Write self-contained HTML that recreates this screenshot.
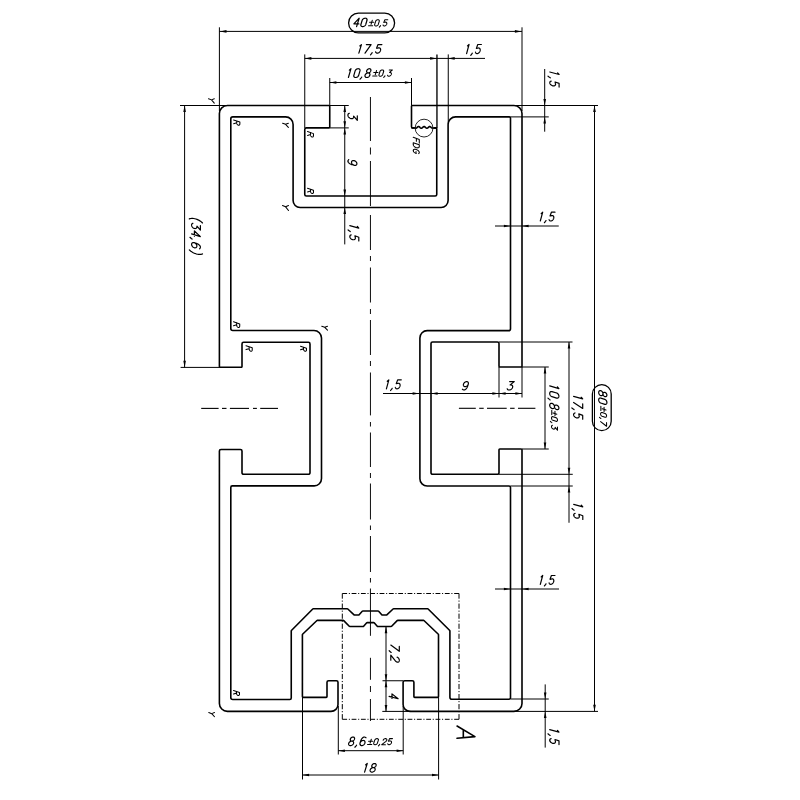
<!DOCTYPE html>
<html><head><meta charset="utf-8"><title>Profile drawing</title>
<style>
html,body{margin:0;padding:0;background:#fff;}
body{width:800px;height:800px;overflow:hidden;filter:grayscale(1);}
svg{display:block;}
text{font-family:"Liberation Sans",sans-serif;fill:#000;}
</style></head><body>
<svg width="800" height="800" viewBox="0 0 800 800">
<rect width="800" height="800" fill="#fff"/>
<path d="M219.4 113.5 A8 8 0 0 1 227.4 105.5 L328.95 105.5 A0.8 0.8 0 0 1 329.75 106.3 L329.75 127.1 A0.8 0.8 0 0 1 328.95 127.9 L306.35 127.9 A1.6 1.6 0 0 0 304.75 129.5 L304.75 194.4 A1.6 1.6 0 0 0 306.35 196 L435.15 196 A1.6 1.6 0 0 0 436.75 194.4 L436.75 128.7 A0.8 0.8 0 0 0 435.95 127.9 L412.7 127.9 A1.2 1.2 0 0 1 411.5 126.7 L411.5 106.3 A0.8 0.8 0 0 1 412.3 105.5 L514 105.5 A8 8 0 0 1 522 113.5 L522 366.2 A0.8 0.8 0 0 1 521.2 367 L499.8 367 A0.8 0.8 0 0 1 499 366.2 L499 343.6 A1.6 1.6 0 0 0 497.4 342 L432.6 342 A1.6 1.6 0 0 0 431 343.6 L431 472.7 A1.6 1.6 0 0 0 432.6 474.3 L497.4 474.3 A1.6 1.6 0 0 0 499 472.7 L499 449.8 A0.8 0.8 0 0 1 499.8 449 L521.2 449 A0.8 0.8 0 0 1 522 449.8 L522 703.4 A8 8 0 0 1 514 711.4 L410.1 711.4 A7 7 0 0 1 403.1 704.4 L403.1 682.35 A1.6 1.6 0 0 1 404.7 680.75 L412.3 680.75 A1.6 1.6 0 0 1 413.9 682.35 L413.9 696.6 A0.8 0.8 0 0 0 414.7 697.4 L437.7 697.4 A0.8 0.8 0 0 0 438.5 696.6 L438.5 634.61 A0.5 0.5 0 0 0 438.34 634.25 L423.94 620.54 A0.5 0.5 0 0 0 423.6 620.4 L397.74 620.4 A0.8 0.8 0 0 0 397.16 620.64 L391.64 626.26 A0.8 0.8 0 0 1 391.06 626.5 L377.86 626.5 A0.8 0.8 0 0 1 377.26 626.23 L374.4 622.94 A1 1 0 0 0 373.65 622.6 L367.25 622.6 A1 1 0 0 0 366.5 622.94 L363.64 626.23 A0.8 0.8 0 0 1 363.04 626.5 L349.84 626.5 A0.8 0.8 0 0 1 349.26 626.26 L343.74 620.64 A0.8 0.8 0 0 0 343.16 620.4 L317.3 620.4 A0.5 0.5 0 0 0 316.96 620.54 L302.56 634.25 A0.5 0.5 0 0 0 302.4 634.61 L302.4 696.6 A0.8 0.8 0 0 0 303.2 697.4 L326.2 697.4 A0.8 0.8 0 0 0 327 696.6 L327 682.35 A1.6 1.6 0 0 1 328.6 680.75 L336.4 680.75 A1.6 1.6 0 0 1 338 682.35 L338 704.4 A7 7 0 0 1 331 711.4 L227.4 711.4 A8 8 0 0 1 219.4 703.4 L219.4 451.1 A1.6 1.6 0 0 1 221 449.5 L240.4 449.5 A1.6 1.6 0 0 1 242 451.1 L242 472.7 A1.6 1.6 0 0 0 243.6 474.3 L308.4 474.3 A1.6 1.6 0 0 0 310 472.7 L310 343.9 A1.6 1.6 0 0 0 308.4 342.3 L243.6 342.3 A1.6 1.6 0 0 0 242 343.9 L242 366.5 A0.8 0.8 0 0 1 241.2 367.3 L220.2 367.3 A0.8 0.8 0 0 1 219.4 366.5 Z" fill="none" stroke="#000" stroke-width="1.6" stroke-linejoin="round"/>
<path d="M230.8 118.9 A2 2 0 0 1 232.8 116.9 L285.6 116.9 A7.5 7.5 0 0 1 293.1 124.4 L293.1 200.5 A7 7 0 0 0 300.1 207.5 L441.1 207.5 A7 7 0 0 0 448.1 200.5 L448.1 124.4 A7.5 7.5 0 0 1 455.6 116.9 L509.3 116.9 A1.2 1.2 0 0 1 510.5 118.1 L510.5 328.65 A2 2 0 0 1 508.5 330.65 L427.2 330.65 A7.3 7.3 0 0 0 419.9 337.95 L419.9 478.7 A7.3 7.3 0 0 0 427.2 486 L509 486 A1.5 1.5 0 0 1 510.5 487.5 L510.5 697.7 A1.5 1.5 0 0 1 509 699.2 L451.9 699.2 A2 2 0 0 1 449.9 697.2 L449.9 630.81 A0.5 0.5 0 0 0 449.75 630.45 L428.15 608.95 A0.5 0.5 0 0 0 427.79 608.8 L393.61 608.8 A0.8 0.8 0 0 0 393.07 609.01 L386.83 614.79 A0.8 0.8 0 0 1 386.29 615 L382.36 615 A0.8 0.8 0 0 1 381.76 614.74 L378.64 611.26 A0.8 0.8 0 0 0 378.04 611 L362.86 611 A0.8 0.8 0 0 0 362.26 611.26 L359.14 614.74 A0.8 0.8 0 0 1 358.54 615 L354.61 615 A0.8 0.8 0 0 1 354.07 614.79 L347.83 609.01 A0.8 0.8 0 0 0 347.29 608.8 L313.11 608.8 A0.5 0.5 0 0 0 312.75 608.95 L291.4 630.45 A0.5 0.5 0 0 0 291.25 630.81 L291.25 698 A1.5 1.5 0 0 1 289.75 699.5 L232.8 699.5 A2 2 0 0 1 230.8 697.5 L230.8 487.4 A1.5 1.5 0 0 1 232.3 485.9 L314.2 485.9 A7.3 7.3 0 0 0 321.5 478.6 L321.5 338 A7.5 7.5 0 0 0 314 330.5 L232.8 330.5 A2 2 0 0 1 230.8 328.5 Z" fill="none" stroke="#000" stroke-width="1.6" stroke-linejoin="round"/>
<rect x="414.6" y="125.2" width="19" height="4.4" fill="#fff"/>
<circle cx="424.05" cy="128.1" r="8.9" fill="none" stroke="#000" stroke-width="0.85"/>
<path d="M411.5 127.9 L415.9 128.0 L415.9 128.23 L416.15 128.14 L416.4 128 L416.65 127.81 L416.9 127.59 L417.15 127.35 L417.4 127.12 L417.65 126.91 L417.9 126.74 L418.15 126.61 L418.4 126.56 L418.65 126.56 L418.9 126.63 L419.15 126.77 L419.4 126.95 L419.65 127.16 L419.9 127.4 L420.15 127.64 L420.4 127.85 L420.65 128.03 L420.9 128.17 L421.15 128.24 L421.4 128.24 L421.65 128.19 L421.9 128.06 L422.15 127.89 L422.4 127.68 L422.65 127.45 L422.9 127.21 L423.15 126.99 L423.4 126.8 L423.65 126.66 L423.9 126.57 L424.15 126.55 L424.4 126.6 L424.65 126.71 L424.9 126.87 L425.15 127.07 L425.4 127.3 L425.65 127.54 L425.9 127.77 L426.15 127.97 L426.4 128.12 L426.65 128.22 L426.9 128.25 L427.15 128.22 L427.4 128.12 L427.65 127.97 L427.9 127.77 L428.15 127.54 L428.4 127.3 L428.65 127.07 L428.9 126.87 L429.15 126.71 L429.4 126.6 L429.65 126.55 L429.9 126.57 L430.15 126.66 L430.4 126.8 L430.65 126.99 L430.9 127.21 L431.15 127.45 L431.4 127.68 L431.65 127.89 L431.9 128.06 L436.75 128.1" fill="none" stroke="#000" stroke-width="1.6" stroke-linejoin="round"/>
<line x1="219.4" y1="27.3" x2="219.4" y2="111" stroke="#000" stroke-width="1"/>
<line x1="522" y1="27.3" x2="522" y2="111" stroke="#000" stroke-width="1"/>
<line x1="219.4" y1="31.4" x2="522" y2="31.4" stroke="#000" stroke-width="1"/>
<path d="M219.9 31.4 L226.5 30.1 L226.5 32.7 Z" fill="#000"/>
<path d="M521.5 31.4 L514.9 30.1 L514.9 32.7 Z" fill="#000"/>
<rect x="348.6" y="13.2" width="46" height="19.6" rx="9.8" ry="9.8" fill="none" stroke="#000" stroke-width="1.3"/>
<line x1="304.75" y1="54.4" x2="304.75" y2="127.9" stroke="#000" stroke-width="1"/>
<line x1="436.95" y1="54.4" x2="436.95" y2="127.9" stroke="#000" stroke-width="1.35"/>
<line x1="448.25" y1="54.4" x2="448.25" y2="124" stroke="#000" stroke-width="1"/>
<line x1="304.75" y1="58.4" x2="485" y2="58.4" stroke="#000" stroke-width="1"/>
<path d="M304.75 58.4 L311.35 57.1 L311.35 59.7 Z" fill="#000"/>
<path d="M436.75 58.4 L430.15 57.1 L430.15 59.7 Z" fill="#000"/>
<path d="M448.1 58.4 L454.7 57.1 L454.7 59.7 Z" fill="#000"/>
<line x1="329.75" y1="78" x2="329.75" y2="105.5" stroke="#000" stroke-width="1"/>
<line x1="411.5" y1="78" x2="411.5" y2="105.5" stroke="#000" stroke-width="1"/>
<line x1="329.75" y1="82.5" x2="411.5" y2="82.5" stroke="#000" stroke-width="1"/>
<path d="M329.75 82.5 L336.35 81.2 L336.35 83.8 Z" fill="#000"/>
<path d="M411.5 82.5 L404.9 81.2 L404.9 83.8 Z" fill="#000"/>
<line x1="329.75" y1="105.5" x2="348.75" y2="105.5" stroke="#000" stroke-width="1"/>
<line x1="329.75" y1="127.9" x2="348.75" y2="127.9" stroke="#000" stroke-width="1"/>
<line x1="344.75" y1="105.5" x2="344.75" y2="244.4" stroke="#000" stroke-width="1"/>
<path d="M344.75 105.5 L343.45 112.1 L346.05 112.1 Z" fill="#000"/>
<path d="M344.75 127.9 L343.45 121.3 L346.05 121.3 Z" fill="#000"/>
<path d="M344.75 127.9 L343.45 134.5 L346.05 134.5 Z" fill="#000"/>
<path d="M344.75 196 L343.45 189.4 L346.05 189.4 Z" fill="#000"/>
<path d="M344.75 207.5 L343.45 214.1 L346.05 214.1 Z" fill="#000"/>
<line x1="515" y1="105.5" x2="598" y2="105.5" stroke="#000" stroke-width="1"/>
<line x1="510.5" y1="116.9" x2="548.75" y2="116.9" stroke="#000" stroke-width="1"/>
<line x1="544.7" y1="69" x2="544.7" y2="131.7" stroke="#000" stroke-width="1"/>
<path d="M544.7 105.5 L543.4 98.9 L546 98.9 Z" fill="#000"/>
<path d="M544.7 116.9 L543.4 123.5 L546 123.5 Z" fill="#000"/>
<line x1="180" y1="105.5" x2="226" y2="105.5" stroke="#000" stroke-width="1"/>
<line x1="180.6" y1="367.4" x2="219.4" y2="367.4" stroke="#000" stroke-width="1"/>
<line x1="184.6" y1="105.5" x2="184.6" y2="367.4" stroke="#000" stroke-width="1"/>
<path d="M184.6 105.5 L183.3 112.1 L185.9 112.1 Z" fill="#000"/>
<path d="M184.6 367.4 L183.3 360.8 L185.9 360.8 Z" fill="#000"/>
<line x1="514" y1="711.4" x2="598" y2="711.4" stroke="#000" stroke-width="1"/>
<line x1="594.5" y1="105.5" x2="594.5" y2="711.4" stroke="#000" stroke-width="1"/>
<path d="M594.5 105.5 L593.2 112.1 L595.8 112.1 Z" fill="#000"/>
<path d="M594.5 711.4 L593.2 704.8 L595.8 704.8 Z" fill="#000"/>
<rect x="592.4" y="384.6" width="18.8" height="46" rx="9.4" ry="9.4" fill="none" stroke="#000" stroke-width="1.3"/>
<line x1="495" y1="226" x2="558.75" y2="226" stroke="#000" stroke-width="1"/>
<path d="M510.5 226 L503.9 224.7 L503.9 227.3 Z" fill="#000"/>
<path d="M522 226 L528.6 224.7 L528.6 227.3 Z" fill="#000"/>
<line x1="383" y1="393.5" x2="522" y2="393.5" stroke="#000" stroke-width="1"/>
<line x1="499" y1="367" x2="499" y2="397.5" stroke="#000" stroke-width="1"/>
<line x1="522" y1="367" x2="522" y2="397.5" stroke="#000" stroke-width="1"/>
<path d="M419.2 393.5 L412.6 392.2 L412.6 394.8 Z" fill="#000"/>
<path d="M431 393.5 L437.6 392.2 L437.6 394.8 Z" fill="#000"/>
<path d="M499 393.5 L492.4 392.2 L492.4 394.8 Z" fill="#000"/>
<path d="M499 393.5 L505.6 392.2 L505.6 394.8 Z" fill="#000"/>
<path d="M522 393.5 L515.4 392.2 L515.4 394.8 Z" fill="#000"/>
<line x1="522" y1="367" x2="548.75" y2="367" stroke="#000" stroke-width="1"/>
<line x1="522" y1="449" x2="548.75" y2="449" stroke="#000" stroke-width="1"/>
<line x1="545" y1="367" x2="545" y2="449" stroke="#000" stroke-width="1"/>
<path d="M545 367 L543.7 373.6 L546.3 373.6 Z" fill="#000"/>
<path d="M545 449 L543.7 442.4 L546.3 442.4 Z" fill="#000"/>
<line x1="499" y1="342" x2="572.5" y2="342" stroke="#000" stroke-width="1"/>
<line x1="499" y1="474.3" x2="572.75" y2="474.3" stroke="#000" stroke-width="1"/>
<line x1="510.5" y1="486" x2="572.75" y2="486" stroke="#000" stroke-width="1"/>
<line x1="569" y1="342" x2="569" y2="522.75" stroke="#000" stroke-width="1"/>
<path d="M569 342 L567.7 348.6 L570.3 348.6 Z" fill="#000"/>
<path d="M569 474.3 L567.7 467.7 L570.3 467.7 Z" fill="#000"/>
<path d="M569 486 L567.7 492.6 L570.3 492.6 Z" fill="#000"/>
<line x1="495" y1="589" x2="559" y2="589" stroke="#000" stroke-width="1"/>
<path d="M510.5 589 L503.9 587.7 L503.9 590.3 Z" fill="#000"/>
<path d="M522 589 L528.6 587.7 L528.6 590.3 Z" fill="#000"/>
<line x1="510.5" y1="699" x2="548.75" y2="699" stroke="#000" stroke-width="1"/>
<line x1="545.2" y1="684.4" x2="545.2" y2="747.6" stroke="#000" stroke-width="1"/>
<path d="M545.2 699 L543.9 692.4 L546.5 692.4 Z" fill="#000"/>
<path d="M545.2 711.4 L543.9 718 L546.5 718 Z" fill="#000"/>
<line x1="382.5" y1="680.75" x2="403.1" y2="680.75" stroke="#000" stroke-width="1"/>
<line x1="382.3" y1="711.4" x2="411" y2="711.4" stroke="#000" stroke-width="1"/>
<line x1="386" y1="627" x2="386" y2="711.5" stroke="#000" stroke-width="1"/>
<path d="M386 626.6 L384.7 633.2 L387.3 633.2 Z" fill="#000"/>
<path d="M386 680.75 L384.7 674.15 L387.3 674.15 Z" fill="#000"/>
<path d="M386 680.75 L384.7 687.35 L387.3 687.35 Z" fill="#000"/>
<path d="M386 711.5 L384.7 704.9 L387.3 704.9 Z" fill="#000"/>
<line x1="338.3" y1="706" x2="338.3" y2="754.5" stroke="#000" stroke-width="1"/>
<line x1="403.2" y1="706" x2="403.2" y2="754.5" stroke="#000" stroke-width="1"/>
<line x1="338.3" y1="750.7" x2="403.2" y2="750.7" stroke="#000" stroke-width="1"/>
<path d="M338.3 750.7 L344.9 749.4 L344.9 752 Z" fill="#000"/>
<path d="M403.2 750.7 L396.6 749.4 L396.6 752 Z" fill="#000"/>
<line x1="302.5" y1="697.3" x2="302.5" y2="779.5" stroke="#000" stroke-width="1"/>
<line x1="438.6" y1="697.3" x2="438.6" y2="779.5" stroke="#000" stroke-width="1"/>
<line x1="302.5" y1="775" x2="438.6" y2="775" stroke="#000" stroke-width="1"/>
<path d="M302.5 775 L309.1 773.7 L309.1 776.3 Z" fill="#000"/>
<path d="M438.6 775 L432 773.7 L432 776.3 Z" fill="#000"/>
<line x1="342.3" y1="593.5" x2="459" y2="593.5" stroke="#000" stroke-width="1" stroke-dasharray="4.806 1.730 1.057 1.730"/>
<line x1="459" y1="593.5" x2="459" y2="719.3" stroke="#000" stroke-width="1" stroke-dasharray="5.181 1.865 1.140 1.865"/>
<line x1="342.3" y1="719.3" x2="459" y2="719.3" stroke="#000" stroke-width="1" stroke-dasharray="4.806 1.730 1.057 1.730"/>
<line x1="342.3" y1="593.5" x2="342.3" y2="719.3" stroke="#000" stroke-width="1" stroke-dasharray="5.181 1.865 1.140 1.865"/>
<line x1="370.45" y1="97" x2="370.45" y2="141" stroke="#000" stroke-width="0.95"/>
<line x1="370.45" y1="147.5" x2="370.45" y2="154.5" stroke="#000" stroke-width="0.95"/>
<line x1="370.45" y1="161" x2="370.45" y2="206" stroke="#000" stroke-width="0.95"/>
<line x1="370.45" y1="215" x2="370.45" y2="250" stroke="#000" stroke-width="0.95"/>
<line x1="370.45" y1="256" x2="370.45" y2="261" stroke="#000" stroke-width="0.95"/>
<line x1="370.45" y1="267.5" x2="370.45" y2="302.5" stroke="#000" stroke-width="0.95"/>
<line x1="370.45" y1="309" x2="370.45" y2="314" stroke="#000" stroke-width="0.95"/>
<line x1="370.45" y1="320" x2="370.45" y2="355" stroke="#000" stroke-width="0.95"/>
<line x1="370.45" y1="361" x2="370.45" y2="366" stroke="#000" stroke-width="0.95"/>
<line x1="370.45" y1="372.5" x2="370.45" y2="415.4" stroke="#000" stroke-width="0.95"/>
<line x1="370.45" y1="422" x2="370.45" y2="426.5" stroke="#000" stroke-width="0.95"/>
<line x1="370.45" y1="432.5" x2="370.45" y2="467" stroke="#000" stroke-width="0.95"/>
<line x1="370.45" y1="473" x2="370.45" y2="478" stroke="#000" stroke-width="0.95"/>
<line x1="370.45" y1="483.5" x2="370.45" y2="519.5" stroke="#000" stroke-width="0.95"/>
<line x1="370.45" y1="525.5" x2="370.45" y2="530" stroke="#000" stroke-width="0.95"/>
<line x1="370.45" y1="536" x2="370.45" y2="572" stroke="#000" stroke-width="0.95"/>
<line x1="370.45" y1="578" x2="370.45" y2="582.5" stroke="#000" stroke-width="0.95"/>
<line x1="370.45" y1="588.5" x2="370.45" y2="635.8" stroke="#000" stroke-width="0.95"/>
<line x1="370.45" y1="657.8" x2="370.45" y2="679.8" stroke="#000" stroke-width="0.95"/>
<line x1="370.45" y1="686" x2="370.45" y2="692" stroke="#000" stroke-width="0.95"/>
<line x1="370.45" y1="699" x2="370.45" y2="721" stroke="#000" stroke-width="0.95"/>
<line x1="201.2" y1="408.4" x2="218.6" y2="408.4" stroke="#000" stroke-width="1.1"/>
<line x1="222" y1="408.4" x2="226.5" y2="408.4" stroke="#000" stroke-width="1.1"/>
<line x1="229.9" y1="408.4" x2="249" y2="408.4" stroke="#000" stroke-width="1.1"/>
<line x1="253" y1="408.4" x2="256.9" y2="408.4" stroke="#000" stroke-width="1.1"/>
<line x1="260.2" y1="408.4" x2="278" y2="408.4" stroke="#000" stroke-width="1.1"/>
<line x1="458.9" y1="408.3" x2="475.8" y2="408.3" stroke="#000" stroke-width="1.1"/>
<line x1="479.2" y1="408.3" x2="483.7" y2="408.3" stroke="#000" stroke-width="1.1"/>
<line x1="487" y1="408.3" x2="506.7" y2="408.3" stroke="#000" stroke-width="1.1"/>
<line x1="510.1" y1="408.3" x2="514.6" y2="408.3" stroke="#000" stroke-width="1.1"/>
<line x1="518" y1="408.3" x2="535.4" y2="408.3" stroke="#000" stroke-width="1.1"/>
<path transform="translate(353.02 26.6) scale(0.9644 0.8400)" d="M3.70 0.00 6.38 -10.00 0.86 -3.20 6.06 -3.20M9.51 -7.50 9.63 -7.86 9.80 -8.20 10.01 -8.54 10.27 -8.85 10.56 -9.14 10.88 -9.39 11.22 -9.60 11.58 -9.77 11.95 -9.90 12.32 -9.97 12.68 -10.00 13.03 -9.97 13.36 -9.90 13.66 -9.77 13.92 -9.60 14.15 -9.39 14.34 -9.14 14.47 -8.85 14.56 -8.54 14.60 -8.20 14.58 -7.86 14.51 -7.50 13.17 -2.50 13.05 -2.14 12.88 -1.80 12.67 -1.46 12.41 -1.15 12.12 -0.86 11.80 -0.61 11.46 -0.40 11.10 -0.23 10.73 -0.10 10.36 -0.03 10.00 0.00 9.65 -0.03 9.32 -0.10 9.02 -0.23 8.75 -0.40 8.53 -0.61 8.34 -0.86 8.20 -1.15 8.12 -1.46 8.08 -1.80 8.10 -2.14 8.17 -2.50 9.51 -7.50" fill="none" stroke="#000" stroke-width="1.2" stroke-linecap="round" stroke-linejoin="round" vector-effect="non-scaling-stroke"/>
<path transform="translate(368.45 25.97) scale(0.7190 0.6250)" d="M5.31 -9.00 3.60 -2.60M1.55 -5.80 7.35 -5.80M0.11 -0.40 5.91 -0.40M10.01 -7.50 10.13 -7.86 10.30 -8.20 10.51 -8.54 10.77 -8.85 11.06 -9.14 11.38 -9.39 11.72 -9.60 12.08 -9.77 12.45 -9.90 12.82 -9.97 13.18 -10.00 13.53 -9.97 13.86 -9.90 14.16 -9.77 14.42 -9.60 14.65 -9.39 14.84 -9.14 14.97 -8.85 15.06 -8.54 15.10 -8.20 15.08 -7.86 15.01 -7.50 13.67 -2.50 13.55 -2.14 13.38 -1.80 13.17 -1.46 12.91 -1.15 12.62 -0.86 12.30 -0.61 11.96 -0.40 11.60 -0.23 11.23 -0.10 10.86 -0.03 10.50 0.00 10.15 -0.03 9.82 -0.10 9.52 -0.23 9.25 -0.40 9.03 -0.61 8.84 -0.86 8.70 -1.15 8.62 -1.46 8.58 -1.80 8.60 -2.14 8.67 -2.50 10.01 -7.50M16.83 -0.50 16.32 0.30 15.09 1.90M26.88 -10.00 22.88 -10.00 21.33 -5.70 22.63 -5.91 23.00 -6.07 23.36 -6.16 23.72 -6.20 24.06 -6.18 24.39 -6.09 24.68 -5.95 24.94 -5.75 25.16 -5.50 25.33 -5.20 25.46 -4.86 25.54 -4.49 25.56 -4.09 25.54 -3.67 25.47 -3.24 25.34 -2.81 25.17 -2.38 24.95 -1.96 24.70 -1.57 24.41 -1.21 24.09 -0.88 23.74 -0.60 23.39 -0.37 23.02 -0.19 22.65 -0.07 22.29 -0.01 21.94 -0.01 21.61 -0.07 21.30 -0.18 21.03 -0.36 20.79 -0.59 20.60 -0.87 20.45 -1.19 20.35 -1.55" fill="none" stroke="#000" stroke-width="1.05" stroke-linecap="round" stroke-linejoin="round" vector-effect="non-scaling-stroke"/>
<path transform="translate(357.11 53.15) scale(0.9653 0.8550)" d="M2.75 -8.40 4.48 -10.00 1.80 0.00M9.58 -10.00 14.48 -10.00 8.20 0.00M15.63 -0.50 15.12 0.30 13.89 1.90M25.68 -10.00 21.68 -10.00 20.13 -5.70 21.43 -5.91 21.80 -6.07 22.16 -6.16 22.52 -6.20 22.86 -6.18 23.19 -6.09 23.48 -5.95 23.74 -5.75 23.96 -5.50 24.13 -5.20 24.26 -4.86 24.34 -4.49 24.36 -4.09 24.34 -3.67 24.27 -3.24 24.14 -2.81 23.97 -2.38 23.75 -1.96 23.50 -1.57 23.21 -1.21 22.89 -0.88 22.54 -0.60 22.19 -0.37 21.82 -0.19 21.45 -0.07 21.09 -0.01 20.74 -0.01 20.41 -0.07 20.10 -0.18 19.83 -0.36 19.59 -0.59 19.40 -0.87 19.25 -1.19 19.15 -1.55" fill="none" stroke="#000" stroke-width="1.2" stroke-linecap="round" stroke-linejoin="round" vector-effect="non-scaling-stroke"/>
<path transform="translate(346.67 77.5) scale(0.9625 0.8800)" d="M2.75 -8.40 4.48 -10.00 1.80 0.00M8.81 -7.50 8.93 -7.86 9.10 -8.20 9.31 -8.54 9.57 -8.85 9.86 -9.14 10.18 -9.39 10.52 -9.60 10.88 -9.77 11.25 -9.90 11.62 -9.97 11.98 -10.00 12.33 -9.97 12.66 -9.90 12.96 -9.77 13.22 -9.60 13.45 -9.39 13.64 -9.14 13.77 -8.85 13.86 -8.54 13.90 -8.20 13.88 -7.86 13.81 -7.50 12.47 -2.50 12.35 -2.14 12.18 -1.80 11.97 -1.46 11.71 -1.15 11.42 -0.86 11.10 -0.61 10.76 -0.40 10.40 -0.23 10.03 -0.10 9.66 -0.03 9.30 0.00 8.95 -0.03 8.62 -0.10 8.32 -0.23 8.05 -0.40 7.83 -0.61 7.64 -0.86 7.50 -1.15 7.42 -1.46 7.38 -1.80 7.40 -2.14 7.47 -2.50 8.81 -7.50M15.63 -0.50 15.12 0.30 13.89 1.90M25.09 -7.60 24.94 -7.18 24.74 -6.78 24.48 -6.40 24.17 -6.06 23.83 -5.76 23.45 -5.52 23.07 -5.34 22.68 -5.24 22.29 -5.20 21.93 -5.24 21.60 -5.34 21.30 -5.52 21.06 -5.76 20.88 -6.06 20.75 -6.40 20.70 -6.78 20.71 -7.18 20.79 -7.60 20.93 -8.02 21.14 -8.42 21.40 -8.80 21.70 -9.14 22.05 -9.44 22.42 -9.68 22.81 -9.86 23.20 -9.96 23.58 -10.00 23.94 -9.96 24.28 -9.86 24.57 -9.68 24.81 -9.44 25.00 -9.14 25.12 -8.80 25.18 -8.42 25.17 -8.02 25.09 -7.60M24.10 -2.60 23.94 -2.15 23.71 -1.71 23.41 -1.30 23.06 -0.93 22.67 -0.61 22.24 -0.35 21.80 -0.16 21.34 -0.04 20.90 0.00 20.48 -0.04 20.09 -0.16 19.74 -0.35 19.46 -0.61 19.23 -0.93 19.08 -1.30 19.01 -1.71 19.01 -2.15 19.10 -2.60 19.26 -3.05 19.49 -3.49 19.78 -3.90 20.13 -4.27 20.52 -4.59 20.95 -4.85 21.40 -5.04 21.85 -5.16 22.29 -5.20 22.72 -5.16 23.11 -5.04 23.45 -4.85 23.74 -4.59 23.96 -4.27 24.11 -3.90 24.18 -3.49 24.18 -3.05 24.10 -2.60" fill="none" stroke="#000" stroke-width="1.2" stroke-linecap="round" stroke-linejoin="round" vector-effect="non-scaling-stroke"/>
<path transform="translate(372.65 76.23) scale(0.7322 0.6300)" d="M5.31 -9.00 3.60 -2.60M1.55 -5.80 7.35 -5.80M0.11 -0.40 5.91 -0.40M10.01 -7.50 10.13 -7.86 10.30 -8.20 10.51 -8.54 10.77 -8.85 11.06 -9.14 11.38 -9.39 11.72 -9.60 12.08 -9.77 12.45 -9.90 12.82 -9.97 13.18 -10.00 13.53 -9.97 13.86 -9.90 14.16 -9.77 14.42 -9.60 14.65 -9.39 14.84 -9.14 14.97 -8.85 15.06 -8.54 15.10 -8.20 15.08 -7.86 15.01 -7.50 13.67 -2.50 13.55 -2.14 13.38 -1.80 13.17 -1.46 12.91 -1.15 12.62 -0.86 12.30 -0.61 11.96 -0.40 11.60 -0.23 11.23 -0.10 10.86 -0.03 10.50 0.00 10.15 -0.03 9.82 -0.10 9.52 -0.23 9.25 -0.40 9.03 -0.61 8.84 -0.86 8.70 -1.15 8.62 -1.46 8.58 -1.80 8.60 -2.14 8.67 -2.50 10.01 -7.50M16.83 -0.50 16.32 0.30 15.09 1.90M22.68 -10.00 27.08 -10.00 23.13 -6.10 23.29 -6.05 23.65 -6.10 24.00 -6.08 24.32 -6.01 24.62 -5.87 24.88 -5.68 25.11 -5.44 25.29 -5.15 25.43 -4.82 25.51 -4.45 25.55 -4.06 25.53 -3.65 25.46 -3.22 25.34 -2.79 25.17 -2.37 24.96 -1.96 24.71 -1.57 24.42 -1.21 24.10 -0.89 23.76 -0.61 23.40 -0.37 23.03 -0.20 22.66 -0.07 22.30 -0.01 21.95 -0.01 21.61 -0.06 21.31 -0.18 21.03 -0.35 20.79 -0.58 20.60 -0.85 20.45 -1.17 20.34 -1.53" fill="none" stroke="#000" stroke-width="1.05" stroke-linecap="round" stroke-linejoin="round" vector-effect="non-scaling-stroke"/>
<path transform="translate(464.97 53.6) scale(0.9036 0.9100)" d="M2.75 -8.40 4.48 -10.00 1.80 0.00M8.13 -0.50 7.62 0.30 6.39 1.90M18.18 -10.00 14.18 -10.00 12.63 -5.70 13.93 -5.91 14.30 -6.07 14.66 -6.16 15.02 -6.20 15.36 -6.18 15.69 -6.09 15.98 -5.95 16.24 -5.75 16.46 -5.50 16.63 -5.20 16.76 -4.86 16.84 -4.49 16.86 -4.09 16.84 -3.67 16.77 -3.24 16.64 -2.81 16.47 -2.38 16.25 -1.96 16.00 -1.57 15.71 -1.21 15.39 -0.88 15.04 -0.60 14.69 -0.37 14.32 -0.19 13.95 -0.07 13.59 -0.01 13.24 -0.01 12.91 -0.07 12.60 -0.18 12.33 -0.36 12.09 -0.59 11.90 -0.87 11.75 -1.19 11.65 -1.55" fill="none" stroke="#000" stroke-width="1.2" stroke-linecap="round" stroke-linejoin="round" vector-effect="non-scaling-stroke"/>
<path transform="translate(347.9 112.53) rotate(90) scale(1.0392 0.9400)" d="M3.08 -10.00 7.48 -10.00 3.53 -6.10 3.69 -6.05 4.05 -6.10 4.40 -6.08 4.72 -6.01 5.02 -5.87 5.28 -5.68 5.51 -5.44 5.69 -5.15 5.83 -4.82 5.91 -4.45 5.95 -4.06 5.93 -3.65 5.86 -3.22 5.74 -2.79 5.57 -2.37 5.36 -1.96 5.11 -1.57 4.82 -1.21 4.50 -0.89 4.16 -0.61 3.80 -0.37 3.43 -0.20 3.06 -0.07 2.70 -0.01 2.35 -0.01 2.01 -0.06 1.71 -0.18 1.43 -0.35 1.19 -0.58 1.00 -0.85 0.85 -1.17 0.74 -1.53" fill="none" stroke="#000" stroke-width="1.2" stroke-linecap="round" stroke-linejoin="round" vector-effect="non-scaling-stroke"/>
<path transform="translate(347.9 158.91) rotate(90) scale(0.9267 0.9000)" d="M0.74 -0.90 1.46 -0.40 1.68 -0.23 1.93 -0.10 2.21 -0.03 2.50 0.00 2.50 0.00 2.87 -0.05 3.26 -0.20 3.66 -0.45 4.06 -0.79 4.46 -1.22 4.85 -1.73 5.22 -2.30 5.56 -2.92 5.86 -3.59 6.12 -4.29 6.34 -5.00 6.88 -7.00M1.88 -7.00 2.05 -7.52 2.30 -8.03 2.61 -8.50 2.98 -8.93 3.38 -9.30 3.82 -9.60 4.28 -9.82 4.73 -9.95 5.18 -10.00 5.60 -9.95 5.99 -9.82 6.32 -9.60 6.60 -9.30 6.81 -8.93 6.94 -8.50 7.00 -8.03 6.98 -7.52 6.88 -7.00 6.70 -6.48 6.45 -5.97 6.14 -5.50 5.77 -5.07 5.37 -4.70 4.93 -4.40 4.48 -4.18 4.02 -4.05 3.57 -4.00 3.15 -4.05 2.77 -4.18 2.43 -4.40 2.15 -4.70 1.94 -5.07 1.81 -5.50 1.75 -5.97 1.77 -6.48 1.88 -7.00" fill="none" stroke="#000" stroke-width="1.2" stroke-linecap="round" stroke-linejoin="round" vector-effect="non-scaling-stroke"/>
<path transform="translate(349.8 223.91) rotate(90) scale(0.9402 0.9000)" d="M2.75 -8.40 4.48 -10.00 1.80 0.00M8.13 -0.50 7.62 0.30 6.39 1.90M18.18 -10.00 14.18 -10.00 12.63 -5.70 13.93 -5.91 14.30 -6.07 14.66 -6.16 15.02 -6.20 15.36 -6.18 15.69 -6.09 15.98 -5.95 16.24 -5.75 16.46 -5.50 16.63 -5.20 16.76 -4.86 16.84 -4.49 16.86 -4.09 16.84 -3.67 16.77 -3.24 16.64 -2.81 16.47 -2.38 16.25 -1.96 16.00 -1.57 15.71 -1.21 15.39 -0.88 15.04 -0.60 14.69 -0.37 14.32 -0.19 13.95 -0.07 13.59 -0.01 13.24 -0.01 12.91 -0.07 12.60 -0.18 12.33 -0.36 12.09 -0.59 11.90 -0.87 11.75 -1.19 11.65 -1.55" fill="none" stroke="#000" stroke-width="1.2" stroke-linecap="round" stroke-linejoin="round" vector-effect="non-scaling-stroke"/>
<path transform="translate(549.8 70.34) rotate(90) scale(0.9219 0.9300)" d="M2.75 -8.40 4.48 -10.00 1.80 0.00M8.13 -0.50 7.62 0.30 6.39 1.90M18.18 -10.00 14.18 -10.00 12.63 -5.70 13.93 -5.91 14.30 -6.07 14.66 -6.16 15.02 -6.20 15.36 -6.18 15.69 -6.09 15.98 -5.95 16.24 -5.75 16.46 -5.50 16.63 -5.20 16.76 -4.86 16.84 -4.49 16.86 -4.09 16.84 -3.67 16.77 -3.24 16.64 -2.81 16.47 -2.38 16.25 -1.96 16.00 -1.57 15.71 -1.21 15.39 -0.88 15.04 -0.60 14.69 -0.37 14.32 -0.19 13.95 -0.07 13.59 -0.01 13.24 -0.01 12.91 -0.07 12.60 -0.18 12.33 -0.36 12.09 -0.59 11.90 -0.87 11.75 -1.19 11.65 -1.55" fill="none" stroke="#000" stroke-width="1.2" stroke-linecap="round" stroke-linejoin="round" vector-effect="non-scaling-stroke"/>
<path transform="translate(191.6 217.48) rotate(90) scale(1.0110 0.8800)" d="M1.43 2.59 1.16 1.77 0.99 0.84 0.91 -0.19 0.92 -1.30 1.03 -2.46 1.23 -3.67 1.51 -4.90 1.88 -6.13 2.33 -7.34 2.85 -8.50 3.43 -9.61 4.06 -10.64 4.74 -11.57 5.44 -12.39M8.08 -10.00 12.48 -10.00 8.53 -6.10 8.69 -6.05 9.05 -6.10 9.40 -6.08 9.72 -6.01 10.02 -5.87 10.28 -5.68 10.51 -5.44 10.69 -5.15 10.83 -4.82 10.91 -4.45 10.95 -4.06 10.93 -3.65 10.86 -3.22 10.74 -2.79 10.57 -2.37 10.36 -1.96 10.11 -1.57 9.82 -1.21 9.50 -0.89 9.16 -0.61 8.80 -0.37 8.43 -0.20 8.06 -0.07 7.70 -0.01 7.35 -0.01 7.01 -0.06 6.71 -0.18 6.43 -0.35 6.19 -0.58 6.00 -0.85 5.85 -1.17 5.74 -1.53M16.20 0.00 18.88 -10.00 13.36 -3.20 18.56 -3.20M21.33 -0.50 20.82 0.30 19.59 1.90M31.04 -9.10 30.32 -9.60 30.10 -9.77 29.85 -9.90 29.57 -9.97 29.28 -10.00 29.28 -10.00 28.91 -9.95 28.52 -9.80 28.12 -9.55 27.72 -9.21 27.32 -8.78 26.93 -8.27 26.56 -7.70 26.22 -7.08 25.92 -6.41 25.66 -5.71 25.44 -5.00 24.90 -3.00M29.90 -3.00 29.73 -2.48 29.48 -1.97 29.17 -1.50 28.80 -1.07 28.40 -0.70 27.96 -0.40 27.50 -0.18 27.05 -0.05 26.60 0.00 26.18 -0.05 25.79 -0.18 25.46 -0.40 25.18 -0.70 24.97 -1.07 24.84 -1.50 24.78 -1.97 24.80 -2.48 24.90 -3.00 25.08 -3.52 25.33 -4.03 25.64 -4.50 26.01 -4.93 26.41 -5.30 26.85 -5.60 27.30 -5.82 27.76 -5.95 28.21 -6.00 28.63 -5.95 29.01 -5.82 29.35 -5.60 29.63 -5.30 29.84 -4.93 29.97 -4.50 30.03 -4.03 30.01 -3.52 29.90 -3.00M36.00 -12.39 36.26 -11.57 36.44 -10.64 36.52 -9.61 36.50 -8.50 36.40 -7.34 36.20 -6.13 35.91 -4.90 35.54 -3.67 35.09 -2.46 34.57 -1.30 33.99 -0.19 33.36 0.84 32.69 1.77 31.99 2.59" fill="none" stroke="#000" stroke-width="1.2" stroke-linecap="round" stroke-linejoin="round" vector-effect="non-scaling-stroke"/>
<path transform="translate(538.68 221) scale(0.8975 0.8800)" d="M2.75 -8.40 4.48 -10.00 1.80 0.00M8.13 -0.50 7.62 0.30 6.39 1.90M18.18 -10.00 14.18 -10.00 12.63 -5.70 13.93 -5.91 14.30 -6.07 14.66 -6.16 15.02 -6.20 15.36 -6.18 15.69 -6.09 15.98 -5.95 16.24 -5.75 16.46 -5.50 16.63 -5.20 16.76 -4.86 16.84 -4.49 16.86 -4.09 16.84 -3.67 16.77 -3.24 16.64 -2.81 16.47 -2.38 16.25 -1.96 16.00 -1.57 15.71 -1.21 15.39 -0.88 15.04 -0.60 14.69 -0.37 14.32 -0.19 13.95 -0.07 13.59 -0.01 13.24 -0.01 12.91 -0.07 12.60 -0.18 12.33 -0.36 12.09 -0.59 11.90 -0.87 11.75 -1.19 11.65 -1.55" fill="none" stroke="#000" stroke-width="1.2" stroke-linecap="round" stroke-linejoin="round" vector-effect="non-scaling-stroke"/>
<path transform="translate(384.76 388.8) scale(0.9097 0.8950)" d="M2.75 -8.40 4.48 -10.00 1.80 0.00M8.13 -0.50 7.62 0.30 6.39 1.90M18.18 -10.00 14.18 -10.00 12.63 -5.70 13.93 -5.91 14.30 -6.07 14.66 -6.16 15.02 -6.20 15.36 -6.18 15.69 -6.09 15.98 -5.95 16.24 -5.75 16.46 -5.50 16.63 -5.20 16.76 -4.86 16.84 -4.49 16.86 -4.09 16.84 -3.67 16.77 -3.24 16.64 -2.81 16.47 -2.38 16.25 -1.96 16.00 -1.57 15.71 -1.21 15.39 -0.88 15.04 -0.60 14.69 -0.37 14.32 -0.19 13.95 -0.07 13.59 -0.01 13.24 -0.01 12.91 -0.07 12.60 -0.18 12.33 -0.36 12.09 -0.59 11.90 -0.87 11.75 -1.19 11.65 -1.55" fill="none" stroke="#000" stroke-width="1.2" stroke-linecap="round" stroke-linejoin="round" vector-effect="non-scaling-stroke"/>
<path transform="translate(461.69 390) scale(0.9587 0.8400)" d="M0.74 -0.90 1.46 -0.40 1.68 -0.23 1.93 -0.10 2.21 -0.03 2.50 0.00 2.50 0.00 2.87 -0.05 3.26 -0.20 3.66 -0.45 4.06 -0.79 4.46 -1.22 4.85 -1.73 5.22 -2.30 5.56 -2.92 5.86 -3.59 6.12 -4.29 6.34 -5.00 6.88 -7.00M1.88 -7.00 2.05 -7.52 2.30 -8.03 2.61 -8.50 2.98 -8.93 3.38 -9.30 3.82 -9.60 4.28 -9.82 4.73 -9.95 5.18 -10.00 5.60 -9.95 5.99 -9.82 6.32 -9.60 6.60 -9.30 6.81 -8.93 6.94 -8.50 7.00 -8.03 6.98 -7.52 6.88 -7.00 6.70 -6.48 6.45 -5.97 6.14 -5.50 5.77 -5.07 5.37 -4.70 4.93 -4.40 4.48 -4.18 4.02 -4.05 3.57 -4.00 3.15 -4.05 2.77 -4.18 2.43 -4.40 2.15 -4.70 1.94 -5.07 1.81 -5.50 1.75 -5.97 1.77 -6.48 1.88 -7.00" fill="none" stroke="#000" stroke-width="1.2" stroke-linecap="round" stroke-linejoin="round" vector-effect="non-scaling-stroke"/>
<path transform="translate(506.42 390) scale(1.0540 0.8400)" d="M3.08 -10.00 7.48 -10.00 3.53 -6.10 3.69 -6.05 4.05 -6.10 4.40 -6.08 4.72 -6.01 5.02 -5.87 5.28 -5.68 5.51 -5.44 5.69 -5.15 5.83 -4.82 5.91 -4.45 5.95 -4.06 5.93 -3.65 5.86 -3.22 5.74 -2.79 5.57 -2.37 5.36 -1.96 5.11 -1.57 4.82 -1.21 4.50 -0.89 4.16 -0.61 3.80 -0.37 3.43 -0.20 3.06 -0.07 2.70 -0.01 2.35 -0.01 2.01 -0.06 1.71 -0.18 1.43 -0.35 1.19 -0.58 1.00 -0.85 0.85 -1.17 0.74 -1.53" fill="none" stroke="#000" stroke-width="1.2" stroke-linecap="round" stroke-linejoin="round" vector-effect="non-scaling-stroke"/>
<path transform="translate(549.7 384.02) rotate(90) scale(1.0160 0.9200)" d="M2.75 -8.40 4.48 -10.00 1.80 0.00M8.81 -7.50 8.93 -7.86 9.10 -8.20 9.31 -8.54 9.57 -8.85 9.86 -9.14 10.18 -9.39 10.52 -9.60 10.88 -9.77 11.25 -9.90 11.62 -9.97 11.98 -10.00 12.33 -9.97 12.66 -9.90 12.96 -9.77 13.22 -9.60 13.45 -9.39 13.64 -9.14 13.77 -8.85 13.86 -8.54 13.90 -8.20 13.88 -7.86 13.81 -7.50 12.47 -2.50 12.35 -2.14 12.18 -1.80 11.97 -1.46 11.71 -1.15 11.42 -0.86 11.10 -0.61 10.76 -0.40 10.40 -0.23 10.03 -0.10 9.66 -0.03 9.30 0.00 8.95 -0.03 8.62 -0.10 8.32 -0.23 8.05 -0.40 7.83 -0.61 7.64 -0.86 7.50 -1.15 7.42 -1.46 7.38 -1.80 7.40 -2.14 7.47 -2.50 8.81 -7.50M15.63 -0.50 15.12 0.30 13.89 1.90M25.09 -7.60 24.94 -7.18 24.74 -6.78 24.48 -6.40 24.17 -6.06 23.83 -5.76 23.45 -5.52 23.07 -5.34 22.68 -5.24 22.29 -5.20 21.93 -5.24 21.60 -5.34 21.30 -5.52 21.06 -5.76 20.88 -6.06 20.75 -6.40 20.70 -6.78 20.71 -7.18 20.79 -7.60 20.93 -8.02 21.14 -8.42 21.40 -8.80 21.70 -9.14 22.05 -9.44 22.42 -9.68 22.81 -9.86 23.20 -9.96 23.58 -10.00 23.94 -9.96 24.28 -9.86 24.57 -9.68 24.81 -9.44 25.00 -9.14 25.12 -8.80 25.18 -8.42 25.17 -8.02 25.09 -7.60M24.10 -2.60 23.94 -2.15 23.71 -1.71 23.41 -1.30 23.06 -0.93 22.67 -0.61 22.24 -0.35 21.80 -0.16 21.34 -0.04 20.90 0.00 20.48 -0.04 20.09 -0.16 19.74 -0.35 19.46 -0.61 19.23 -0.93 19.08 -1.30 19.01 -1.71 19.01 -2.15 19.10 -2.60 19.26 -3.05 19.49 -3.49 19.78 -3.90 20.13 -4.27 20.52 -4.59 20.95 -4.85 21.40 -5.04 21.85 -5.16 22.29 -5.20 22.72 -5.16 23.11 -5.04 23.45 -4.85 23.74 -4.59 23.96 -4.27 24.11 -3.90 24.18 -3.49 24.18 -3.05 24.10 -2.60" fill="none" stroke="#000" stroke-width="1.2" stroke-linecap="round" stroke-linejoin="round" vector-effect="non-scaling-stroke"/>
<path transform="translate(551.52 410.25) rotate(90) scale(0.7396 0.5950)" d="M5.31 -9.00 3.60 -2.60M1.55 -5.80 7.35 -5.80M0.11 -0.40 5.91 -0.40M10.01 -7.50 10.13 -7.86 10.30 -8.20 10.51 -8.54 10.77 -8.85 11.06 -9.14 11.38 -9.39 11.72 -9.60 12.08 -9.77 12.45 -9.90 12.82 -9.97 13.18 -10.00 13.53 -9.97 13.86 -9.90 14.16 -9.77 14.42 -9.60 14.65 -9.39 14.84 -9.14 14.97 -8.85 15.06 -8.54 15.10 -8.20 15.08 -7.86 15.01 -7.50 13.67 -2.50 13.55 -2.14 13.38 -1.80 13.17 -1.46 12.91 -1.15 12.62 -0.86 12.30 -0.61 11.96 -0.40 11.60 -0.23 11.23 -0.10 10.86 -0.03 10.50 0.00 10.15 -0.03 9.82 -0.10 9.52 -0.23 9.25 -0.40 9.03 -0.61 8.84 -0.86 8.70 -1.15 8.62 -1.46 8.58 -1.80 8.60 -2.14 8.67 -2.50 10.01 -7.50M16.83 -0.50 16.32 0.30 15.09 1.90M22.68 -10.00 27.08 -10.00 23.13 -6.10 23.29 -6.05 23.65 -6.10 24.00 -6.08 24.32 -6.01 24.62 -5.87 24.88 -5.68 25.11 -5.44 25.29 -5.15 25.43 -4.82 25.51 -4.45 25.55 -4.06 25.53 -3.65 25.46 -3.22 25.34 -2.79 25.17 -2.37 24.96 -1.96 24.71 -1.57 24.42 -1.21 24.10 -0.89 23.76 -0.61 23.40 -0.37 23.03 -0.20 22.66 -0.07 22.30 -0.01 21.95 -0.01 21.61 -0.06 21.31 -0.18 21.03 -0.35 20.79 -0.58 20.60 -0.85 20.45 -1.17 20.34 -1.53" fill="none" stroke="#000" stroke-width="1.05" stroke-linecap="round" stroke-linejoin="round" vector-effect="non-scaling-stroke"/>
<path transform="translate(573.6 394.63) rotate(90) scale(0.9569 0.9100)" d="M2.75 -8.40 4.48 -10.00 1.80 0.00M9.58 -10.00 14.48 -10.00 8.20 0.00M15.63 -0.50 15.12 0.30 13.89 1.90M25.68 -10.00 21.68 -10.00 20.13 -5.70 21.43 -5.91 21.80 -6.07 22.16 -6.16 22.52 -6.20 22.86 -6.18 23.19 -6.09 23.48 -5.95 23.74 -5.75 23.96 -5.50 24.13 -5.20 24.26 -4.86 24.34 -4.49 24.36 -4.09 24.34 -3.67 24.27 -3.24 24.14 -2.81 23.97 -2.38 23.75 -1.96 23.50 -1.57 23.21 -1.21 22.89 -0.88 22.54 -0.60 22.19 -0.37 21.82 -0.19 21.45 -0.07 21.09 -0.01 20.74 -0.01 20.41 -0.07 20.10 -0.18 19.83 -0.36 19.59 -0.59 19.40 -0.87 19.25 -1.19 19.15 -1.55" fill="none" stroke="#000" stroke-width="1.2" stroke-linecap="round" stroke-linejoin="round" vector-effect="non-scaling-stroke"/>
<path transform="translate(598.7 390) rotate(90) scale(0.9866 0.8200)" d="M6.69 -7.60 6.54 -7.18 6.34 -6.78 6.08 -6.40 5.77 -6.06 5.43 -5.76 5.05 -5.52 4.67 -5.34 4.28 -5.24 3.89 -5.20 3.53 -5.24 3.20 -5.34 2.90 -5.52 2.66 -5.76 2.48 -6.06 2.35 -6.40 2.30 -6.78 2.31 -7.18 2.39 -7.60 2.53 -8.02 2.74 -8.42 3.00 -8.80 3.30 -9.14 3.65 -9.44 4.02 -9.68 4.41 -9.86 4.80 -9.96 5.18 -10.00 5.54 -9.96 5.88 -9.86 6.17 -9.68 6.41 -9.44 6.60 -9.14 6.72 -8.80 6.78 -8.42 6.77 -8.02 6.69 -7.60M5.70 -2.60 5.54 -2.15 5.31 -1.71 5.01 -1.30 4.66 -0.93 4.27 -0.61 3.84 -0.35 3.40 -0.16 2.94 -0.04 2.50 0.00 2.08 -0.04 1.69 -0.16 1.34 -0.35 1.06 -0.61 0.83 -0.93 0.68 -1.30 0.61 -1.71 0.61 -2.15 0.70 -2.60 0.86 -3.05 1.09 -3.49 1.38 -3.90 1.73 -4.27 2.12 -4.59 2.55 -4.85 3.00 -5.04 3.45 -5.16 3.89 -5.20 4.32 -5.16 4.71 -5.04 5.05 -4.85 5.34 -4.59 5.56 -4.27 5.71 -3.90 5.78 -3.49 5.78 -3.05 5.70 -2.60M9.51 -7.50 9.63 -7.86 9.80 -8.20 10.01 -8.54 10.27 -8.85 10.56 -9.14 10.88 -9.39 11.22 -9.60 11.58 -9.77 11.95 -9.90 12.32 -9.97 12.68 -10.00 13.03 -9.97 13.36 -9.90 13.66 -9.77 13.92 -9.60 14.15 -9.39 14.34 -9.14 14.47 -8.85 14.56 -8.54 14.60 -8.20 14.58 -7.86 14.51 -7.50 13.17 -2.50 13.05 -2.14 12.88 -1.80 12.67 -1.46 12.41 -1.15 12.12 -0.86 11.80 -0.61 11.46 -0.40 11.10 -0.23 10.73 -0.10 10.36 -0.03 10.00 0.00 9.65 -0.03 9.32 -0.10 9.02 -0.23 8.75 -0.40 8.53 -0.61 8.34 -0.86 8.20 -1.15 8.12 -1.46 8.08 -1.80 8.10 -2.14 8.17 -2.50 9.51 -7.50" fill="none" stroke="#000" stroke-width="1.2" stroke-linecap="round" stroke-linejoin="round" vector-effect="non-scaling-stroke"/>
<path transform="translate(600.62 406.2) rotate(90) scale(0.7342 0.5950)" d="M5.31 -9.00 3.60 -2.60M1.55 -5.80 7.35 -5.80M0.11 -0.40 5.91 -0.40M10.01 -7.50 10.13 -7.86 10.30 -8.20 10.51 -8.54 10.77 -8.85 11.06 -9.14 11.38 -9.39 11.72 -9.60 12.08 -9.77 12.45 -9.90 12.82 -9.97 13.18 -10.00 13.53 -9.97 13.86 -9.90 14.16 -9.77 14.42 -9.60 14.65 -9.39 14.84 -9.14 14.97 -8.85 15.06 -8.54 15.10 -8.20 15.08 -7.86 15.01 -7.50 13.67 -2.50 13.55 -2.14 13.38 -1.80 13.17 -1.46 12.91 -1.15 12.62 -0.86 12.30 -0.61 11.96 -0.40 11.60 -0.23 11.23 -0.10 10.86 -0.03 10.50 0.00 10.15 -0.03 9.82 -0.10 9.52 -0.23 9.25 -0.40 9.03 -0.61 8.84 -0.86 8.70 -1.15 8.62 -1.46 8.58 -1.80 8.60 -2.14 8.67 -2.50 10.01 -7.50M16.83 -0.50 16.32 0.30 15.09 1.90M22.38 -10.00 27.28 -10.00 21.00 0.00" fill="none" stroke="#000" stroke-width="1.05" stroke-linecap="round" stroke-linejoin="round" vector-effect="non-scaling-stroke"/>
<path transform="translate(573.7 502.7) rotate(90) scale(0.9188 0.9100)" d="M2.75 -8.40 4.48 -10.00 1.80 0.00M8.13 -0.50 7.62 0.30 6.39 1.90M18.18 -10.00 14.18 -10.00 12.63 -5.70 13.93 -5.91 14.30 -6.07 14.66 -6.16 15.02 -6.20 15.36 -6.18 15.69 -6.09 15.98 -5.95 16.24 -5.75 16.46 -5.50 16.63 -5.20 16.76 -4.86 16.84 -4.49 16.86 -4.09 16.84 -3.67 16.77 -3.24 16.64 -2.81 16.47 -2.38 16.25 -1.96 16.00 -1.57 15.71 -1.21 15.39 -0.88 15.04 -0.60 14.69 -0.37 14.32 -0.19 13.95 -0.07 13.59 -0.01 13.24 -0.01 12.91 -0.07 12.60 -0.18 12.33 -0.36 12.09 -0.59 11.90 -0.87 11.75 -1.19 11.65 -1.55" fill="none" stroke="#000" stroke-width="1.2" stroke-linecap="round" stroke-linejoin="round" vector-effect="non-scaling-stroke"/>
<path transform="translate(538.68 584.3) scale(0.8975 0.8800)" d="M2.75 -8.40 4.48 -10.00 1.80 0.00M8.13 -0.50 7.62 0.30 6.39 1.90M18.18 -10.00 14.18 -10.00 12.63 -5.70 13.93 -5.91 14.30 -6.07 14.66 -6.16 15.02 -6.20 15.36 -6.18 15.69 -6.09 15.98 -5.95 16.24 -5.75 16.46 -5.50 16.63 -5.20 16.76 -4.86 16.84 -4.49 16.86 -4.09 16.84 -3.67 16.77 -3.24 16.64 -2.81 16.47 -2.38 16.25 -1.96 16.00 -1.57 15.71 -1.21 15.39 -0.88 15.04 -0.60 14.69 -0.37 14.32 -0.19 13.95 -0.07 13.59 -0.01 13.24 -0.01 12.91 -0.07 12.60 -0.18 12.33 -0.36 12.09 -0.59 11.90 -0.87 11.75 -1.19 11.65 -1.55" fill="none" stroke="#000" stroke-width="1.2" stroke-linecap="round" stroke-linejoin="round" vector-effect="non-scaling-stroke"/>
<path transform="translate(549.7 727.95) rotate(90) scale(0.9158 0.9300)" d="M2.75 -8.40 4.48 -10.00 1.80 0.00M8.13 -0.50 7.62 0.30 6.39 1.90M18.18 -10.00 14.18 -10.00 12.63 -5.70 13.93 -5.91 14.30 -6.07 14.66 -6.16 15.02 -6.20 15.36 -6.18 15.69 -6.09 15.98 -5.95 16.24 -5.75 16.46 -5.50 16.63 -5.20 16.76 -4.86 16.84 -4.49 16.86 -4.09 16.84 -3.67 16.77 -3.24 16.64 -2.81 16.47 -2.38 16.25 -1.96 16.00 -1.57 15.71 -1.21 15.39 -0.88 15.04 -0.60 14.69 -0.37 14.32 -0.19 13.95 -0.07 13.59 -0.01 13.24 -0.01 12.91 -0.07 12.60 -0.18 12.33 -0.36 12.09 -0.59 11.90 -0.87 11.75 -1.19 11.65 -1.55" fill="none" stroke="#000" stroke-width="1.2" stroke-linecap="round" stroke-linejoin="round" vector-effect="non-scaling-stroke"/>
<path transform="translate(390.8 643.71) rotate(90) scale(0.9897 0.8500)" d="M2.78 -10.00 7.68 -10.00 1.40 0.00M8.83 -0.50 8.32 0.30 7.09 1.90M13.58 -7.40 13.71 -7.77 13.88 -8.13 14.10 -8.48 14.36 -8.81 14.65 -9.10 14.97 -9.36 15.32 -9.59 15.68 -9.77 16.05 -9.89 16.42 -9.97 16.78 -10.00 17.13 -9.97 17.46 -9.89 17.76 -9.77 18.02 -9.59 18.25 -9.36 18.43 -9.10 18.56 -8.81 18.65 -8.48 18.68 -8.13 18.66 -7.77 18.58 -7.40 18.27 -6.60 17.45 -5.40 11.60 0.00 16.70 0.00" fill="none" stroke="#000" stroke-width="1.2" stroke-linecap="round" stroke-linejoin="round" vector-effect="non-scaling-stroke"/>
<path transform="translate(389.1 693.09) rotate(90) scale(0.8874 0.9000)" d="M3.70 0.00 6.38 -10.00 0.86 -3.20 6.06 -3.20" fill="none" stroke="#000" stroke-width="1.2" stroke-linecap="round" stroke-linejoin="round" vector-effect="non-scaling-stroke"/>
<path transform="translate(348.01 745.6) scale(0.9705 0.8600)" d="M6.69 -7.60 6.54 -7.18 6.34 -6.78 6.08 -6.40 5.77 -6.06 5.43 -5.76 5.05 -5.52 4.67 -5.34 4.28 -5.24 3.89 -5.20 3.53 -5.24 3.20 -5.34 2.90 -5.52 2.66 -5.76 2.48 -6.06 2.35 -6.40 2.30 -6.78 2.31 -7.18 2.39 -7.60 2.53 -8.02 2.74 -8.42 3.00 -8.80 3.30 -9.14 3.65 -9.44 4.02 -9.68 4.41 -9.86 4.80 -9.96 5.18 -10.00 5.54 -9.96 5.88 -9.86 6.17 -9.68 6.41 -9.44 6.60 -9.14 6.72 -8.80 6.78 -8.42 6.77 -8.02 6.69 -7.60M5.70 -2.60 5.54 -2.15 5.31 -1.71 5.01 -1.30 4.66 -0.93 4.27 -0.61 3.84 -0.35 3.40 -0.16 2.94 -0.04 2.50 0.00 2.08 -0.04 1.69 -0.16 1.34 -0.35 1.06 -0.61 0.83 -0.93 0.68 -1.30 0.61 -1.71 0.61 -2.15 0.70 -2.60 0.86 -3.05 1.09 -3.49 1.38 -3.90 1.73 -4.27 2.12 -4.59 2.55 -4.85 3.00 -5.04 3.45 -5.16 3.89 -5.20 4.32 -5.16 4.71 -5.04 5.05 -4.85 5.34 -4.59 5.56 -4.27 5.71 -3.90 5.78 -3.49 5.78 -3.05 5.70 -2.60M8.83 -0.50 8.32 0.30 7.09 1.90M18.54 -9.10 17.82 -9.60 17.60 -9.77 17.35 -9.90 17.07 -9.97 16.78 -10.00 16.78 -10.00 16.41 -9.95 16.02 -9.80 15.62 -9.55 15.22 -9.21 14.82 -8.78 14.43 -8.27 14.06 -7.70 13.72 -7.08 13.42 -6.41 13.16 -5.71 12.94 -5.00 12.40 -3.00M17.40 -3.00 17.23 -2.48 16.98 -1.97 16.67 -1.50 16.30 -1.07 15.90 -0.70 15.46 -0.40 15.00 -0.18 14.55 -0.05 14.10 0.00 13.68 -0.05 13.29 -0.18 12.96 -0.40 12.68 -0.70 12.47 -1.07 12.34 -1.50 12.28 -1.97 12.30 -2.48 12.40 -3.00 12.58 -3.52 12.83 -4.03 13.14 -4.50 13.51 -4.93 13.91 -5.30 14.35 -5.60 14.80 -5.82 15.26 -5.95 15.71 -6.00 16.13 -5.95 16.51 -5.82 16.85 -5.60 17.13 -5.30 17.34 -4.93 17.47 -4.50 17.53 -4.03 17.51 -3.52 17.40 -3.00" fill="none" stroke="#000" stroke-width="1.2" stroke-linecap="round" stroke-linejoin="round" vector-effect="non-scaling-stroke"/>
<path transform="translate(367.45 744.67) scale(0.7280 0.6050)" d="M5.31 -9.00 3.60 -2.60M1.55 -5.80 7.35 -5.80M0.11 -0.40 5.91 -0.40M10.01 -7.50 10.13 -7.86 10.30 -8.20 10.51 -8.54 10.77 -8.85 11.06 -9.14 11.38 -9.39 11.72 -9.60 12.08 -9.77 12.45 -9.90 12.82 -9.97 13.18 -10.00 13.53 -9.97 13.86 -9.90 14.16 -9.77 14.42 -9.60 14.65 -9.39 14.84 -9.14 14.97 -8.85 15.06 -8.54 15.10 -8.20 15.08 -7.86 15.01 -7.50 13.67 -2.50 13.55 -2.14 13.38 -1.80 13.17 -1.46 12.91 -1.15 12.62 -0.86 12.30 -0.61 11.96 -0.40 11.60 -0.23 11.23 -0.10 10.86 -0.03 10.50 0.00 10.15 -0.03 9.82 -0.10 9.52 -0.23 9.25 -0.40 9.03 -0.61 8.84 -0.86 8.70 -1.15 8.62 -1.46 8.58 -1.80 8.60 -2.14 8.67 -2.50 10.01 -7.50M16.83 -0.50 16.32 0.30 15.09 1.90M21.58 -7.40 21.71 -7.77 21.88 -8.13 22.10 -8.48 22.36 -8.81 22.65 -9.10 22.97 -9.36 23.32 -9.59 23.68 -9.77 24.05 -9.89 24.42 -9.97 24.78 -10.00 25.13 -9.97 25.46 -9.89 25.76 -9.77 26.02 -9.59 26.25 -9.36 26.43 -9.10 26.56 -8.81 26.65 -8.48 26.68 -8.13 26.66 -7.77 26.58 -7.40 26.27 -6.60 25.45 -5.40 19.60 0.00 24.70 0.00M34.38 -10.00 30.38 -10.00 28.83 -5.70 30.13 -5.91 30.50 -6.07 30.86 -6.16 31.22 -6.20 31.56 -6.18 31.89 -6.09 32.18 -5.95 32.44 -5.75 32.66 -5.50 32.83 -5.20 32.96 -4.86 33.04 -4.49 33.06 -4.09 33.04 -3.67 32.97 -3.24 32.84 -2.81 32.67 -2.38 32.45 -1.96 32.20 -1.57 31.91 -1.21 31.59 -0.88 31.24 -0.60 30.89 -0.37 30.52 -0.19 30.15 -0.07 29.79 -0.01 29.44 -0.01 29.11 -0.07 28.80 -0.18 28.53 -0.36 28.29 -0.59 28.10 -0.87 27.95 -1.19 27.85 -1.55" fill="none" stroke="#000" stroke-width="1.05" stroke-linecap="round" stroke-linejoin="round" vector-effect="non-scaling-stroke"/>
<path transform="translate(362.83 772.1) scale(0.9808 0.8600)" d="M2.75 -8.40 4.48 -10.00 1.80 0.00M13.49 -7.60 13.34 -7.18 13.14 -6.78 12.88 -6.40 12.57 -6.06 12.23 -5.76 11.85 -5.52 11.47 -5.34 11.08 -5.24 10.69 -5.20 10.33 -5.24 10.00 -5.34 9.70 -5.52 9.46 -5.76 9.28 -6.06 9.15 -6.40 9.10 -6.78 9.11 -7.18 9.19 -7.60 9.33 -8.02 9.54 -8.42 9.80 -8.80 10.10 -9.14 10.45 -9.44 10.82 -9.68 11.21 -9.86 11.60 -9.96 11.98 -10.00 12.34 -9.96 12.68 -9.86 12.97 -9.68 13.21 -9.44 13.40 -9.14 13.52 -8.80 13.58 -8.42 13.57 -8.02 13.49 -7.60M12.50 -2.60 12.34 -2.15 12.11 -1.71 11.81 -1.30 11.46 -0.93 11.07 -0.61 10.64 -0.35 10.20 -0.16 9.74 -0.04 9.30 0.00 8.88 -0.04 8.49 -0.16 8.14 -0.35 7.86 -0.61 7.63 -0.93 7.48 -1.30 7.41 -1.71 7.41 -2.15 7.50 -2.60 7.66 -3.05 7.89 -3.49 8.18 -3.90 8.53 -4.27 8.92 -4.59 9.35 -4.85 9.80 -5.04 10.25 -5.16 10.69 -5.20 11.12 -5.16 11.51 -5.04 11.85 -4.85 12.14 -4.59 12.36 -4.27 12.51 -3.90 12.58 -3.49 12.58 -3.05 12.50 -2.60" fill="none" stroke="#000" stroke-width="1.2" stroke-linecap="round" stroke-linejoin="round" vector-effect="non-scaling-stroke"/>
<path transform="translate(457.05 726.05) rotate(90) scale(1.6554 1.7900)" d="M0.00 0.00 6.38 -10.00 7.40 0.00M2.24 -3.50 7.04 -3.50" fill="none" stroke="#000" stroke-width="1.6" stroke-linecap="round" stroke-linejoin="round" vector-effect="non-scaling-stroke"/>
<path transform="translate(413.23 137.33) rotate(90) scale(0.7724 0.6050)" d="M7.48 -10.00 2.68 -10.00 0.00 0.00M1.39 -5.20 5.19 -5.20M9.20 0.00 7.00 0.00 9.68 -10.00 11.88 -10.00 11.88 -10.00 12.26 -9.95 12.61 -9.80 12.92 -9.55 13.18 -9.21 13.39 -8.78 13.53 -8.27 13.62 -7.70 13.64 -7.08 13.60 -6.41 13.50 -5.71 13.34 -5.00 13.12 -4.29 12.85 -3.59 12.53 -2.92 12.17 -2.30 11.78 -1.73 11.36 -1.22 10.93 -0.79 10.48 -0.45 10.04 -0.20 9.61 -0.05 9.20 0.00 9.20 0.00M21.04 -8.83 20.85 -9.24 20.62 -9.57 20.34 -9.81 20.03 -9.95 19.68 -10.00 19.30 -9.95 18.89 -9.80 18.48 -9.55 18.06 -9.21 17.65 -8.78 17.25 -8.27 16.88 -7.70 16.53 -7.08 16.22 -6.41 15.96 -5.71 15.74 -5.00 15.58 -4.29 15.47 -3.59 15.42 -2.92 15.43 -2.30 15.50 -1.73 15.62 -1.22 15.81 -0.79 16.04 -0.45 16.32 -0.20 16.64 -0.05 17.00 0.00 17.38 -0.05 17.79 -0.20 18.20 -0.45 18.62 -0.79 19.03 -1.22 19.43 -1.73 19.80 -2.30 20.15 -2.92 20.46 -3.59 20.72 -4.29 20.94 -5.00 20.83 -4.60 18.53 -4.60" fill="none" stroke="#000" stroke-width="1.05" stroke-linecap="round" stroke-linejoin="round" vector-effect="non-scaling-stroke"/>
<path transform="translate(208.53 96.58) rotate(90) scale(0.8239 0.5750)" d="M2.68 -10.00 3.99 -5.20 7.88 -10.00M3.99 -5.20 2.60 0.00" fill="none" stroke="#000" stroke-width="1.05" stroke-linecap="round" stroke-linejoin="round" vector-effect="non-scaling-stroke"/>
<path transform="translate(233.62 119.93) rotate(90) scale(0.7464 0.6250)" d="M0.00 0.00 2.68 -10.00 5.28 -10.00 5.28 -10.00 5.61 -9.97 5.93 -9.90 6.22 -9.77 6.47 -9.60 6.69 -9.39 6.86 -9.14 6.99 -8.85 7.07 -8.54 7.10 -8.20 7.08 -7.86 7.01 -7.50 6.89 -7.14 6.72 -6.80 6.51 -6.46 6.27 -6.15 5.98 -5.86 5.68 -5.61 5.34 -5.40 5.00 -5.23 4.64 -5.10 4.29 -5.03 3.94 -5.00 1.34 -5.00M3.74 -5.00 5.00 0.00" fill="none" stroke="#000" stroke-width="1.05" stroke-linecap="round" stroke-linejoin="round" vector-effect="non-scaling-stroke"/>
<path transform="translate(282.62 121.26) rotate(90) scale(0.7766 0.5750)" d="M2.68 -10.00 3.99 -5.20 7.88 -10.00M3.99 -5.20 2.60 0.00" fill="none" stroke="#000" stroke-width="1.05" stroke-linecap="round" stroke-linejoin="round" vector-effect="non-scaling-stroke"/>
<path transform="translate(307.53 131.53) rotate(90) scale(0.7816 0.5950)" d="M0.00 0.00 2.68 -10.00 5.28 -10.00 5.28 -10.00 5.61 -9.97 5.93 -9.90 6.22 -9.77 6.47 -9.60 6.69 -9.39 6.86 -9.14 6.99 -8.85 7.07 -8.54 7.10 -8.20 7.08 -7.86 7.01 -7.50 6.89 -7.14 6.72 -6.80 6.51 -6.46 6.27 -6.15 5.98 -5.86 5.68 -5.61 5.34 -5.40 5.00 -5.23 4.64 -5.10 4.29 -5.03 3.94 -5.00 1.34 -5.00M3.74 -5.00 5.00 0.00" fill="none" stroke="#000" stroke-width="1.05" stroke-linecap="round" stroke-linejoin="round" vector-effect="non-scaling-stroke"/>
<path transform="translate(307.53 188.28) rotate(90) scale(0.7323 0.5950)" d="M0.00 0.00 2.68 -10.00 5.28 -10.00 5.28 -10.00 5.61 -9.97 5.93 -9.90 6.22 -9.77 6.47 -9.60 6.69 -9.39 6.86 -9.14 6.99 -8.85 7.07 -8.54 7.10 -8.20 7.08 -7.86 7.01 -7.50 6.89 -7.14 6.72 -6.80 6.51 -6.46 6.27 -6.15 5.98 -5.86 5.68 -5.61 5.34 -5.40 5.00 -5.23 4.64 -5.10 4.29 -5.03 3.94 -5.00 1.34 -5.00M3.74 -5.00 5.00 0.00" fill="none" stroke="#000" stroke-width="1.05" stroke-linecap="round" stroke-linejoin="round" vector-effect="non-scaling-stroke"/>
<path transform="translate(282.53 203.09) rotate(90) scale(0.9376 0.5950)" d="M2.68 -10.00 3.99 -5.20 7.88 -10.00M3.99 -5.20 2.60 0.00" fill="none" stroke="#000" stroke-width="1.05" stroke-linecap="round" stroke-linejoin="round" vector-effect="non-scaling-stroke"/>
<path transform="translate(233.53 321.77) rotate(90) scale(0.8027 0.6200)" d="M0.00 0.00 2.68 -10.00 5.28 -10.00 5.28 -10.00 5.61 -9.97 5.93 -9.90 6.22 -9.77 6.47 -9.60 6.69 -9.39 6.86 -9.14 6.99 -8.85 7.07 -8.54 7.10 -8.20 7.08 -7.86 7.01 -7.50 6.89 -7.14 6.72 -6.80 6.51 -6.46 6.27 -6.15 5.98 -5.86 5.68 -5.61 5.34 -5.40 5.00 -5.23 4.64 -5.10 4.29 -5.03 3.94 -5.00 1.34 -5.00M3.74 -5.00 5.00 0.00" fill="none" stroke="#000" stroke-width="1.05" stroke-linecap="round" stroke-linejoin="round" vector-effect="non-scaling-stroke"/>
<path transform="translate(321.78 324.33) rotate(90) scale(0.7482 0.5700)" d="M2.68 -10.00 3.99 -5.20 7.88 -10.00M3.99 -5.20 2.60 0.00" fill="none" stroke="#000" stroke-width="1.05" stroke-linecap="round" stroke-linejoin="round" vector-effect="non-scaling-stroke"/>
<path transform="translate(246.03 345.77) rotate(90) scale(0.7675 0.6200)" d="M0.00 0.00 2.68 -10.00 5.28 -10.00 5.28 -10.00 5.61 -9.97 5.93 -9.90 6.22 -9.77 6.47 -9.60 6.69 -9.39 6.86 -9.14 6.99 -8.85 7.07 -8.54 7.10 -8.20 7.08 -7.86 7.01 -7.50 6.89 -7.14 6.72 -6.80 6.51 -6.46 6.27 -6.15 5.98 -5.86 5.68 -5.61 5.34 -5.40 5.00 -5.23 4.64 -5.10 4.29 -5.03 3.94 -5.00 1.34 -5.00M3.74 -5.00 5.00 0.00" fill="none" stroke="#000" stroke-width="1.05" stroke-linecap="round" stroke-linejoin="round" vector-effect="non-scaling-stroke"/>
<path transform="translate(300.53 346.27) rotate(90) scale(0.6971 0.5950)" d="M0.00 0.00 2.68 -10.00 5.28 -10.00 5.28 -10.00 5.61 -9.97 5.93 -9.90 6.22 -9.77 6.47 -9.60 6.69 -9.39 6.86 -9.14 6.99 -8.85 7.07 -8.54 7.10 -8.20 7.08 -7.86 7.01 -7.50 6.89 -7.14 6.72 -6.80 6.51 -6.46 6.27 -6.15 5.98 -5.86 5.68 -5.61 5.34 -5.40 5.00 -5.23 4.64 -5.10 4.29 -5.03 3.94 -5.00 1.34 -5.00M3.74 -5.00 5.00 0.00" fill="none" stroke="#000" stroke-width="1.05" stroke-linecap="round" stroke-linejoin="round" vector-effect="non-scaling-stroke"/>
<path transform="translate(233.53 690.52) rotate(90) scale(0.6971 0.5950)" d="M0.00 0.00 2.68 -10.00 5.28 -10.00 5.28 -10.00 5.61 -9.97 5.93 -9.90 6.22 -9.77 6.47 -9.60 6.69 -9.39 6.86 -9.14 6.99 -8.85 7.07 -8.54 7.10 -8.20 7.08 -7.86 7.01 -7.50 6.89 -7.14 6.72 -6.80 6.51 -6.46 6.27 -6.15 5.98 -5.86 5.68 -5.61 5.34 -5.40 5.00 -5.23 4.64 -5.10 4.29 -5.03 3.94 -5.00 1.34 -5.00M3.74 -5.00 5.00 0.00" fill="none" stroke="#000" stroke-width="1.05" stroke-linecap="round" stroke-linejoin="round" vector-effect="non-scaling-stroke"/>
<path transform="translate(208.78 710.46) rotate(90) scale(0.7955 0.5700)" d="M2.68 -10.00 3.99 -5.20 7.88 -10.00M3.99 -5.20 2.60 0.00" fill="none" stroke="#000" stroke-width="1.05" stroke-linecap="round" stroke-linejoin="round" vector-effect="non-scaling-stroke"/>
</svg>
</body></html>
